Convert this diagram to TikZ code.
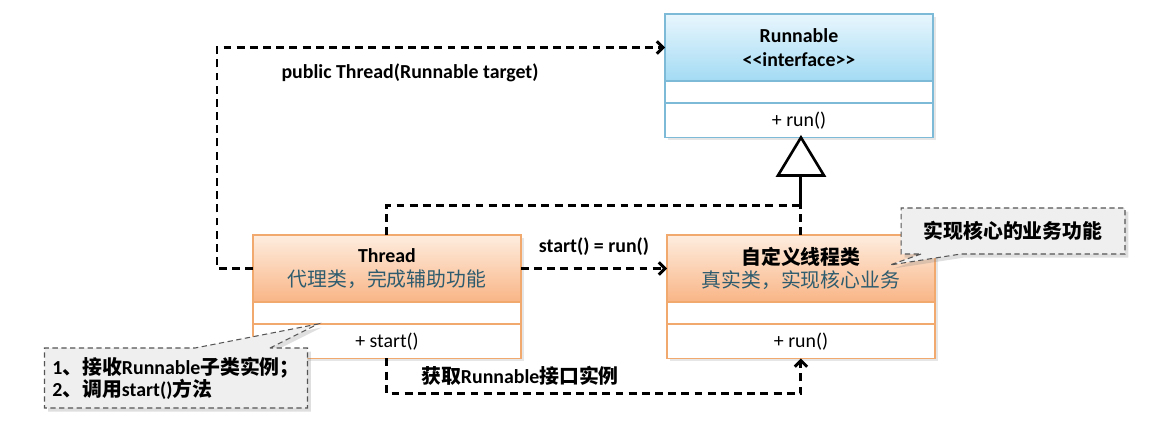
\documentclass[tikz,border=0pt]{standalone}
\usepackage{fontspec}
\setmainfont{Carlito}
\newfontfamily\cjk{Noto Sans CJK SC}
\usepackage{xcolor}
\usetikzlibrary{arrows.meta, shapes.callouts, shadows, calc, positioning}

\definecolor{blueTop}{HTML}{E8F6FD}
\definecolor{blueBot}{HTML}{A3DBF4}
\definecolor{blueLine}{HTML}{7DBAD8}
\definecolor{orangeTop}{HTML}{FEEDDF}
\definecolor{orangeBot}{HTML}{F9B586}
\definecolor{orangeLine}{HTML}{F2A96E}
\definecolor{subText}{HTML}{2E5C6E}
\definecolor{noteFill}{HTML}{EFEFEF}
\definecolor{noteLine}{HTML}{555555}

\begin{document}
\begin{tikzpicture}[x=0.02cm, y=-0.02cm,
    font=\fontsize{11.3}{13.5}\selectfont,
    box/.style={draw=#1, line width=0.7pt, minimum width=5.36cm, inner sep=0pt, outer sep=0pt, align=center,
        drop shadow={opacity=0.2, shadow xshift=1.5pt, shadow yshift=-1.5pt}},
    blueHead/.style={box=blueLine, minimum height=1.34cm, top color=blueTop, bottom color=blueBot},
    orangeHead/.style={box=orangeLine, minimum height=1.34cm, top color=orangeTop, bottom color=orangeBot},
    attr/.style={box=#1, fill=white, minimum height=0.44cm},
    ops/.style={box=#1, fill=white, minimum height=0.69cm},
    link/.style={line width=1.7pt, dash pattern=on 4.5pt off 3pt},
    dep/.style={link, -{Straight Barb[length=3.5pt, width=7pt]}},
    note/.style={rectangle callout, draw=noteLine, line width=0.6pt, densely dashed, fill=noteFill,
        inner sep=0pt, align=left, font=\fontsize{11.3}{12.5}\selectfont\bfseries,
        drop shadow={opacity=0.25, shadow xshift=2pt, shadow yshift=-2pt}}]

\useasboundingbox (0,0) rectangle (1154,434);

% Runnable interface
\node[blueHead, anchor=north west] (runHead) at (665,14) {\textbf{Runnable}\\\textbf{{<}{<}interface{>}{>}}};
\node[attr=blueLine, below=0pt of runHead] (runAttr) {};
\node[ops=blueLine, below=0pt of runAttr] (runOps) {+ run()};

% Thread
\node[orangeHead, anchor=north west] (thrHead) at (253,235) {\textbf{Thread}\\{\cjk\color{subText}代理类，完成辅助功能}};
\node[attr=orangeLine, below=0pt of thrHead] (thrAttr) {};
\node[ops=orangeLine, below=0pt of thrAttr] (thrOps) {+ start()};

% custom thread class
\node[orangeHead, anchor=north west] (myHead) at (667,235) {{\cjk\bfseries 自定义线程类}\\{\cjk\color{subText}真实类，实现核心业务}};
\node[attr=orangeLine, below=0pt of myHead] (myAttr) {};
\node[ops=orangeLine, below=0pt of myAttr] (myOps) {+ run()};

% connectors
\draw[dep] (thrHead.west) -- ++(-36,0) |- (runHead.west);
\node (pubLbl) at (410,73) {\textbf{public Thread(Runnable target)}};

\draw[dep] (thrHead.east) -- (myHead.west) node[midway, above=3pt] (startLbl) {\textbf{start() = run()}};

\draw[dep] (thrOps.south) -- ++(0,35) -| (myOps.south);
\node (getLbl) at (520,376) {\bfseries{\cjk 获取}Runnable{\cjk 接口实例}};

\coordinate (triTip) at (myHead.north |- runOps.south);
\coordinate (triBase) at ($(triTip)+(0,38)$);
\draw[link] (myHead.north) -- (triBase);
\draw[link] (thrHead.north) -- ++(0,-30) -| (triBase);
\draw[line width=1.5pt, fill=white] (triTip) -- ++(-23,38) -- ++(46,0) -- cycle;

% notes
\node[note, minimum width=5.26cm, minimum height=1.2cm, callout absolute pointer={(318,324)},
    callout pointer width=1.5cm] (noteThr) at (176,378)
    {1{\cjk 、接收}Runnable{\cjk 子类实例；}\\2{\cjk 、调用}start(){\cjk 方法}};
\node[note, minimum width=4.48cm, minimum height=0.92cm, callout absolute pointer={(890,265)},
    callout pointer width=0.8cm] (noteMy) at (1013,231)
    {\cjk 实现核心的业务功能};
\end{tikzpicture}
\end{document}
